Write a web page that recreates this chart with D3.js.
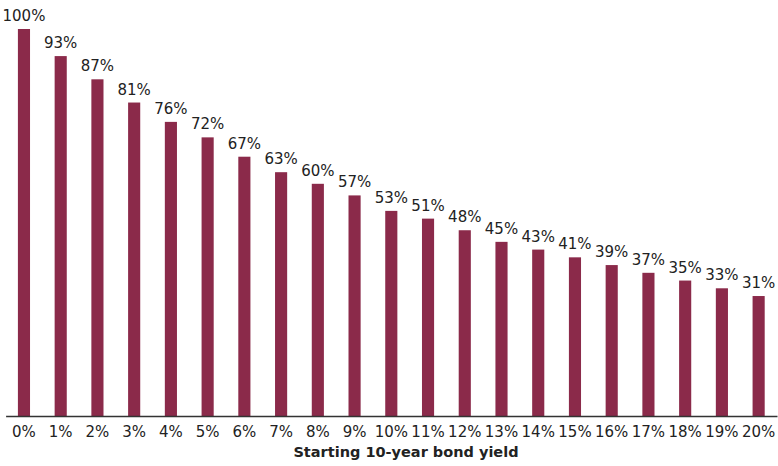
<!DOCTYPE html>
<html>
<head>
<meta charset="utf-8">
<script src="https://cdn.jsdelivr.net/npm/d3@7"></script>
<style>
  body { margin: 0; background: #fff; }
  text { font-family: "DejaVu Sans", sans-serif; fill: #222; }
</style>
</head>
<body>
<svg width="778" height="466"></svg>
<script>
// yields on the x axis, relative value on top of each bar
const yields = ['0%', '1%', '2%', '3%', '4%', '5%', '6%', '7%', '8%', '9%', '10%',
  '11%', '12%', '13%', '14%', '15%', '16%', '17%', '18%', '19%', '20%'];
const values = [100, 93, 87, 81, 76, 72, 67, 63, 60, 57, 53, 51, 48, 45, 43, 41, 39, 37, 35, 33, 31];
const axisTitle = 'Starting 10-year bond yield';

const svg = d3.select('svg');
const baseY = 416;
const topY = 29;

const x = d3.scaleBand()
  .domain(yields)
  .range([5.6, 777])
  .paddingInner(0.67)
  .paddingOuter(0.335);

const y = d3.scaleLinear()
  .domain([0, 100])
  .range([baseY, topY]);

const data = yields.map((k, i) => ({ k: k, v: values[i] }));

svg.append('g')
  .selectAll('rect')
  .data(data)
  .enter().append('rect')
  .attr('x', d => x(d.k))
  .attr('y', d => y(d.v))
  .attr('width', x.bandwidth())
  .attr('height', d => baseY - y(d.v))
  .attr('fill', '#8b2a4a');

svg.append('g')
  .selectAll('text')
  .data(data)
  .enter().append('text')
  .attr('x', d => x(d.k) + x.bandwidth() / 2)
  .attr('y', d => y(d.v) - 8)
  .attr('text-anchor', 'middle')
  .style('font-size', '15px')
  .text(d => d.v + '%');

const axis = svg.append('g')
  .attr('transform', `translate(0,${baseY})`)
  .call(d3.axisBottom(x).tickSize(0).tickPadding(10));
axis.select('.domain').attr('stroke', '#333').attr('stroke-width', 1.3);
axis.selectAll('text')
  .style('font-size', '15px')
  .style('font-family', '"DejaVu Sans", sans-serif')
  .attr('fill', '#222');

svg.append('text')
  .attr('x', 406)
  .attr('y', 457)
  .attr('text-anchor', 'middle')
  .style('font-size', '14.5px')
  .style('font-weight', 'bold')
  .text(axisTitle);
</script>
</body>
</html>
